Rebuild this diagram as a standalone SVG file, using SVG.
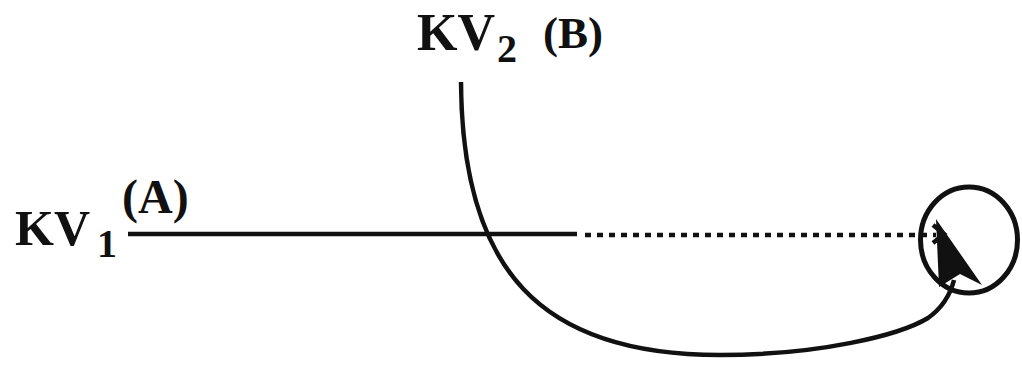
<svg xmlns="http://www.w3.org/2000/svg" width="1022" height="366" viewBox="0 0 1022 366">
<style>
.lbl{font-family:"Liberation Serif","Times New Roman",serif;font-weight:bold;fill:#111}
.ln{fill:none;stroke:#111;stroke-width:4.5}
</style>
<rect width="1022" height="366" fill="#fff"/>
<g id="node-kv1">
<text class="lbl" x="15" y="245" font-size="50">KV</text>
<text class="lbl" x="97" y="257" font-size="40">1</text>
<text class="lbl" x="122" y="213" font-size="48">(A)</text>
</g>
<g id="node-kv2">
<text class="lbl" x="417" y="50" font-size="52">KV</text>
<text class="lbl" x="497" y="62" font-size="40">2</text>
<text class="lbl" x="543" y="48" font-size="45">(B)</text>
</g>
<g id="node-target">
<ellipse cx="969" cy="240" rx="48.5" ry="53" fill="none" stroke="#111" stroke-width="5"/>
</g>
<g id="connectors">
<line class="ln" x1="128" y1="234" x2="577" y2="234"/>
<line class="ln" x1="585" y1="235" x2="936" y2="235" stroke-dasharray="6 6" stroke-width="5"/>
<polyline class="ln" points="933,225 944,234 933,243" stroke-width="4"/>
<path class="ln" d="M461 82 C462 270 540 355 720 355 C820 355 900 335 928 318 C942 308 950 296 954 280"/>
<polygon points="936,219 982,285 960,274 939,287" fill="#111"/>
</g>
</svg>
